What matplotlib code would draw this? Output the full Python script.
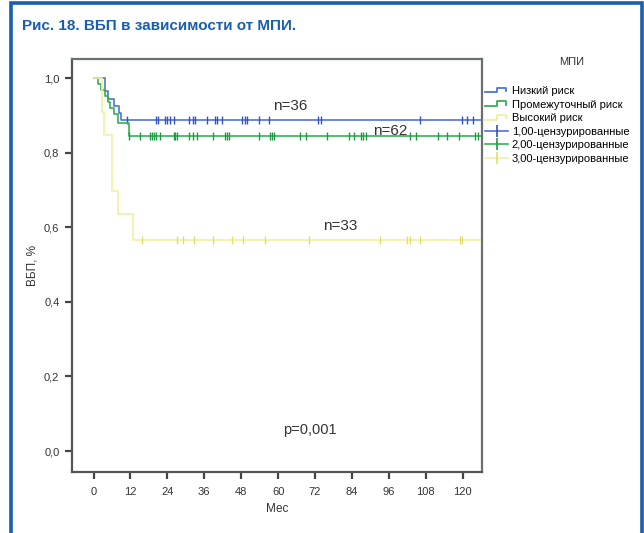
import matplotlib
matplotlib.use("Agg")
import matplotlib.pyplot as plt
from matplotlib.lines import Line2D
from matplotlib.patches import Rectangle
from matplotlib.legend_handler import HandlerBase

plt.rcParams['font.family'] = ['Liberation Sans', 'DejaVu Sans']

# Kaplan-Meier steps (months, survival) for each risk group
times_low = [0, 3.8, 4.8, 6.5, 8.2, 9.0, 126.5]
surv_low = [1.0, 0.964, 0.943, 0.925, 0.905, 0.887, 0.887]
times_mid = [0, 1.6, 2.5, 3.6, 4.6, 5.5, 6.8, 7.8, 11.4, 126.5]
surv_mid = [1.0, 0.984, 0.968, 0.952, 0.935, 0.919, 0.903, 0.879, 0.845, 0.845]
times_high = [0, 2.8, 3.5, 6.0, 8.1, 12.8, 126.5]
surv_high = [1.0, 0.909, 0.848, 0.697, 0.636, 0.566, 0.566]

# censored observations (months)
cens_low = [10.9, 20.3, 20.8, 23.3, 24.0, 24.9, 26.0, 30.9, 32.5, 33.0, 36.9,
            39.6, 40.1, 41.9, 48.2, 49.1, 49.9, 53.9, 56.9, 73.1, 73.9, 106.2,
            119.8, 121.4, 123.3]
cens_mid = [11.4, 15.2, 18.2, 19.0, 19.7, 20.4, 21.7, 26.0, 26.6, 27.1, 30.9,
            32.5, 33.6, 39.0, 42.7, 43.3, 44.0, 53.9, 57.4, 58.0, 58.7, 67.1,
            69.1, 76.0, 82.9, 84.7, 87.0, 87.7, 88.6, 102.9, 104.8, 111.9,
            114.9, 118.9, 124.0, 124.9]
cens_high = [15.9, 27.1, 29.1, 32.8, 38.8, 45.1, 48.7, 55.8, 69.9, 93.0, 102.0,
             103.0, 106.0, 119.0, 119.9]

group_labels = ['Низкий риск', 'Промежуточный риск', 'Высокий риск']
cens_labels = ['1,00-цензурированные', '2,00-цензурированные', '3,00-цензурированные']
n_labels = ['n=36', 'n=62', 'n=33']
x_ticks = [0, 12, 24, 36, 48, 60, 72, 84, 96, 108, 120]
y_ticks = [0.0, 0.2, 0.4, 0.6, 0.8, 1.0]

line_colors = ['#4f74d6', '#36b055', '#f2f0a0']
mark_colors = ['#3552c4', '#1f9a43', '#e2dc6a']


class StepHandler(HandlerBase):
    # little step glyph used by the survival curves in the legend
    def create_artists(self, legend, orig_handle, xdescent, ydescent,
                       width, height, fontsize, trans):
        x0, y0 = -xdescent, -ydescent
        xs = [x0, x0 + 0.5 * width, x0 + 0.5 * width, x0 + 0.9 * width, x0 + 0.9 * width]
        ys = [y0 + 0.2 * height, y0 + 0.2 * height, y0 + 0.8 * height,
              y0 + 0.8 * height, y0 + 0.35 * height]
        ln = Line2D(xs, ys, color=orig_handle.get_color(), lw=1.3, transform=trans)
        return [ln]


fig = plt.figure(figsize=(6.44, 5.33), dpi=100)
ax = fig.add_axes([72 / 644, 1 - 472 / 533, 410 / 644, 413 / 533])

curves = []
for t, s, c, lc, mc in zip([times_low, times_mid, times_high],
                           [surv_low, surv_mid, surv_high],
                           [cens_low, cens_mid, cens_high],
                           line_colors, mark_colors):
    ln, = ax.step(t, s, where='post', color=lc, lw=1.2)
    curves.append(ln)
    # censor marks sit on the curve value at that time
    ys = []
    for tc in c:
        val = s[0]
        for ti, si in zip(t, s):
            if ti <= tc:
                val = si
        ys.append(val)
    ax.plot(c, ys, ls='none', marker='|', ms=6, mew=1.0, color=mc)

ax.set_xlim(-7, 126.3)
ax.set_ylim(-0.056, 1.051)
ax.set_xticks(x_ticks)
ax.set_yticks(y_ticks)
ax.set_yticklabels([f'{v:.1f}'.replace('.', ',') for v in y_ticks])
ax.tick_params(direction='out', length=5, width=1.6, color='#444444',
               labelsize=8, labelcolor='#333333', pad=6)
ax.tick_params(axis='y', pad=4)
for side in ['left', 'bottom']:
    ax.spines[side].set_color('#555555')
    ax.spines[side].set_linewidth(1.6)
for side in ['top', 'right']:
    ax.spines[side].set_color('#6a7070')
    ax.spines[side].set_linewidth(1.6)

ax.set_xlabel('Мес', fontsize=8.5, color='#333333', labelpad=4)
ax.set_ylabel('ВБП, %', fontsize=8.5, color='#333333', labelpad=4)

ax.text(58.5, 0.925, n_labels[0], fontsize=11, color='#333333', va='center')
ax.text(90.9, 0.858, n_labels[1], fontsize=11, color='#333333', va='center')
ax.text(74.6, 0.603, n_labels[2], fontsize=11, color='#333333', va='center')
ax.text(61.6, 0.056, 'p=0,001', fontsize=10.5, color='#333333', va='center')

# legend: three step glyphs and three censor entries
handles = list(curves)
for mc, lc in zip(mark_colors, line_colors):
    handles.append(Line2D([], [], color=lc, lw=1.2, marker='|', ms=8,
                          mew=1.2, mec=mc))
fig.legend(handles, group_labels + cens_labels,
           handler_map={h: StepHandler() for h in curves},
           loc='upper left', bbox_to_anchor=(485 / 644, 1 - 86 / 533),
           frameon=False, fontsize=8, handlelength=2.1, handletextpad=0.3,
           labelspacing=0.32, borderaxespad=0, borderpad=0)
fig.text(572 / 644, 1 - 62 / 533, 'МПИ', fontsize=8, color='#333333',
         ha='center', va='center')

# blue frame and caption
fig.patches.append(Rectangle((11 / 644, -0.05), 631 / 644, 1.05 - 3 / 533,
                             transform=fig.transFigure, fill=False,
                             edgecolor='#1a5fae', lw=2.6))
fig.text(22 / 644, 1 - 26 / 533, 'Рис. 18. ВБП в зависимости от МПИ.',
         fontsize=11, fontweight='bold', color='#1a5fae', va='center')

fig.savefig('out.png', dpi=100)
